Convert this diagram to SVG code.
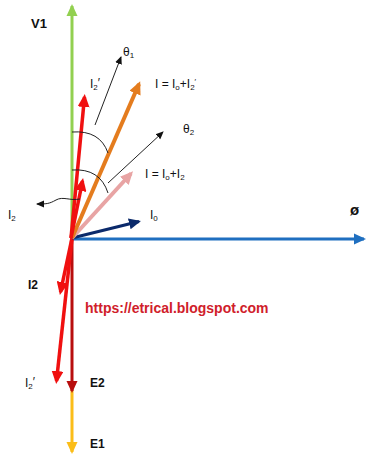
<svg xmlns="http://www.w3.org/2000/svg" width="367" height="455" viewBox="0 0 367 455">
<style>
text{font-family:"Liberation Sans",Arial,sans-serif;font-size:12px;fill:#111}
.b{font-weight:bold}
.sub{font-size:8px}
.v{fill:none;stroke-linecap:butt}
.thin{fill:none;stroke:#222;stroke-width:1}
</style>
<defs>
<marker id="mGreen" markerUnits="userSpaceOnUse" markerWidth="12" markerHeight="12" refX="10" refY="6" orient="auto"><path d="M0,0.5 L12,6 L0,11.5z" fill="#92d050"/></marker>
<marker id="mBlue" markerUnits="userSpaceOnUse" markerWidth="12" markerHeight="12" refX="10" refY="6" orient="auto"><path d="M0,0.5 L12,6 L0,11.5z" fill="#1f6fc0"/></marker>
<marker id="mOrange" markerUnits="userSpaceOnUse" markerWidth="13" markerHeight="12" refX="10" refY="6" orient="auto"><path d="M0,0 L13,6 L0,12z" fill="#e47c1e"/></marker>
<marker id="mPink" markerUnits="userSpaceOnUse" markerWidth="13" markerHeight="12" refX="10" refY="6" orient="auto"><path d="M0,0 L13,6 L0,12z" fill="#e8a4a4"/></marker>
<marker id="mNavy" markerUnits="userSpaceOnUse" markerWidth="12" markerHeight="12" refX="10" refY="6" orient="auto"><path d="M0,0.5 L12,6 L0,11.5z" fill="#0b2a6b"/></marker>
<marker id="mRed" markerUnits="userSpaceOnUse" markerWidth="13" markerHeight="12" refX="10" refY="6" orient="auto"><path d="M0,0 L13,6 L0,12z" fill="#f01010"/></marker>
<marker id="mDark" markerUnits="userSpaceOnUse" markerWidth="12" markerHeight="12" refX="10" refY="6" orient="auto"><path d="M0,0.5 L12,6 L0,11.5z" fill="#b80e0e"/></marker>
<marker id="mGold" markerUnits="userSpaceOnUse" markerWidth="12" markerHeight="12" refX="10" refY="6" orient="auto"><path d="M0,0.5 L12,6 L0,11.5z" fill="#fbbd18"/></marker>
<marker id="mBlack" markerUnits="userSpaceOnUse" markerWidth="8" markerHeight="8" refX="7" refY="4" orient="auto"><path d="M0,0.5 L8,4 L0,7.5z" fill="#111"/></marker>
</defs>
<g id="connectors">
<line id="v1" class="v" x1="72" y1="238" x2="72" y2="6" stroke="#92d050" stroke-width="3" marker-end="url(#mGreen)"/>
<line id="phi" class="v" x1="72" y1="239" x2="364" y2="239" stroke="#1f6fc0" stroke-width="3" marker-end="url(#mBlue)"/>
<line id="E1" class="v" x1="72" y1="390" x2="72" y2="452" stroke="#fbbd18" stroke-width="3" marker-end="url(#mGold)"/>
<line id="E2" class="v" x1="72" y1="238" x2="72" y2="391" stroke="#b80e0e" stroke-width="3" marker-end="url(#mDark)"/>
<line id="I2pdown" class="v" x1="72" y1="238" x2="56.5" y2="381" stroke="#f01010" stroke-width="3.5" marker-end="url(#mRed)"/>
<line id="I2down" class="v" x1="72" y1="238" x2="60.5" y2="292" stroke="#f01010" stroke-width="3.5" marker-end="url(#mRed)"/>
<line id="I0" class="v" x1="72" y1="238" x2="139" y2="221.5" stroke="#0b2a6b" stroke-width="3" marker-end="url(#mNavy)"/>
<line id="Ipink" class="v" x1="72" y1="238" x2="131" y2="173.5" stroke="#e8a4a4" stroke-width="4" marker-end="url(#mPink)"/>
<line id="Iorange" class="v" x1="72" y1="238" x2="139" y2="84" stroke="#e47c1e" stroke-width="4" marker-end="url(#mOrange)"/>
<line id="I2up" class="v" x1="71" y1="238" x2="82.5" y2="181" stroke="#f01010" stroke-width="3.5" marker-end="url(#mRed)"/>
<line id="I2pup" class="v" x1="71" y1="238" x2="84.5" y2="97" stroke="#f01010" stroke-width="3.5" marker-end="url(#mRed)"/>
<line id="th1" class="thin" x1="95" y1="125" x2="121" y2="57" marker-end="url(#mBlack)"/>
<line id="th2" class="thin" x1="108" y1="183" x2="163" y2="132" marker-end="url(#mBlack)"/>
<path id="arc1" class="thin" d="M72,132 Q100,130 108,153"/>
<path id="arc2" class="thin" d="M72,170 Q100,168 108,193"/>
<path id="I2wave" class="thin" d="M80,199 C70,201 63,196 56,200 S46,204 37,204" marker-end="url(#mBlack)"/>
</g>
<g id="labels">
<text id="tV1" class="b" x="31" y="28" font-size="13" style="font-size:13px">V1</text>
<text id="tth1" x="123" y="56">θ<tspan class="sub" dy="2">1</tspan></text>
<text id="tI2p" x="90" y="88">I<tspan class="sub" dy="2">2</tspan><tspan dy="-3">′</tspan></text>
<text id="tI" x="155" y="88">I = I<tspan class="sub" dy="2">o</tspan><tspan dy="-2">+I</tspan><tspan class="sub" dy="2">2</tspan><tspan class="sub" dy="-6">′</tspan></text>
<text id="tth2" x="183" y="133">θ<tspan class="sub" dy="2">2</tspan></text>
<text id="tIp" x="145" y="178">I = I<tspan class="sub" dy="2">o</tspan><tspan dy="-2">+I</tspan><tspan class="sub" dy="2">2</tspan></text>
<text id="tI0" x="150" y="219">I<tspan class="sub" dy="2">0</tspan></text>
<text id="tI2" x="8" y="219">I<tspan class="sub" dy="2">2</tspan></text>
<text id="tphi" class="b" x="350" y="215" style="font-size:15px">ø</text>
<text id="tI2b" class="b" x="28" y="289">I2</text>
<text id="url" class="b" x="85" y="313" style="font-size:14px;fill:#d0202a">https://etrical.blogspot.com</text>
<text id="tI2pb" x="25" y="387">I<tspan class="sub" dy="2">2</tspan><tspan dy="-3">′</tspan></text>
<text id="tE2" class="b" x="90" y="387">E2</text>
<text id="tE1" class="b" x="90" y="448">E1</text>
</g>
</svg>
